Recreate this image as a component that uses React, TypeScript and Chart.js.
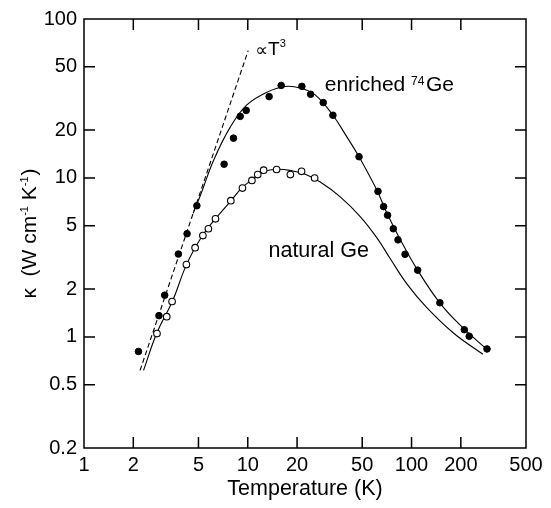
import React, { useEffect, useRef } from 'react';
import { Chart, registerables } from 'chart.js';

Chart.register(...registerables);

const FONT = '"Liberation Sans", Arial, Helvetica, sans-serif';

// Axis ticks
const xTicks = [1, 2, 5, 10, 20, 50, 100, 200, 500];
const yTicks = [0.2, 0.5, 1, 2, 5, 10, 20, 50, 100];

// Measured points: enriched 74Ge (filled circles)
const enrichedT = [2.15, 2.87, 3.11, 3.77, 4.26, 4.89, 7.17, 8.18, 8.99, 9.78, 13.5, 16.0, 21.4, 24.2, 28.9, 33.1, 47.8, 62.4, 67.5, 71.4, 77.4, 82.7, 91.3, 109, 149, 210, 225, 289];
const enrichedK = [0.81, 1.36, 1.83, 3.32, 4.46, 6.69, 12.2, 17.8, 24.4, 26.6, 32.5, 38.2, 37.7, 33.6, 29.8, 24.8, 13.6, 8.23, 6.6, 5.83, 4.79, 4.08, 3.31, 2.63, 1.64, 1.11, 1.01, 0.84];

// Measured points: natural Ge (open circles)
const naturalT = [2.79, 3.2, 3.45, 4.22, 4.77, 5.32, 5.75, 6.35, 7.88, 9.28, 10.6, 11.5, 12.5, 15.0, 18.2, 21.3, 25.6];
const naturalK = [1.05, 1.34, 1.67, 2.85, 3.64, 4.34, 4.79, 5.53, 7.2, 8.63, 9.65, 10.5, 11.2, 11.3, 10.5, 11.0, 9.99];

// Fitted curves
const enrichedFitT = [4.64, 5.19, 6.17, 7.8, 9.87, 13.1, 16.9, 20.9, 25.8, 33.1, 39.4, 47.6, 61.5, 70.8, 85.4, 108, 150, 208, 287];
const enrichedFitK = [5.99, 7.98, 12.84, 20.8, 28.8, 34.6, 37.6, 36.8, 33.3, 24.8, 18.8, 13.7, 8.36, 5.99, 4.09, 2.67, 1.62, 1.13, 0.839];

const naturalFitT = [2.31, 2.78, 3.47, 4.24, 5.29, 6.32, 7.84, 9.2, 10.64, 12.42, 15.34, 18.68, 22.43, 27.7, 36.7, 48.6, 61.5, 74.2, 93.9, 124.4, 180.9, 272.8];
const naturalFitK = [0.616, 1.054, 1.68, 2.87, 4.34, 5.5, 7.12, 8.66, 9.74, 10.92, 11.35, 11.08, 10.54, 9.43, 7.61, 5.72, 4.2, 3.1, 2.15, 1.52, 1.054, 0.778];

// T^3 guide line
const cubeT = [2.2, 10.06];
const cubeK = [0.616, 63.3];

const toXY = (xs: number[], ys: number[]) => xs.map((x, i) => ({ x, y: ys[i] }));

type Seg = { t: string; size: number; dy?: number; gap?: number; family?: string };

function drawSegs(ctx: CanvasRenderingContext2D, segs: Seg[], x: number, y: number) {
  let cx = x;
  segs.forEach((s) => {
    cx += s.gap || 0;
    ctx.font = `${s.size}px ${s.family || FONT}`;
    ctx.fillText(s.t, cx, y + (s.dy || 0));
    cx += ctx.measureText(s.t).width;
  });
  return cx;
}

function segsWidth(ctx: CanvasRenderingContext2D, segs: Seg[]) {
  let w = 0;
  segs.forEach((s) => {
    ctx.font = `${s.size}px ${s.family || FONT}`;
    w += (s.gap || 0) + ctx.measureText(s.t).width;
  });
  return w;
}

const decor = {
  id: 'decor',
  afterDraw(chart: any) {
    const { ctx, chartArea: a, scales } = chart;
    const xs = scales.x;
    const ys = scales.y;
    ctx.save();
    ctx.strokeStyle = '#000';
    ctx.lineWidth = 1.5;
    ctx.strokeRect(a.left, a.top, a.right - a.left, a.bottom - a.top);
    const L = 11;
    ctx.beginPath();
    xTicks.slice(1, -1).forEach((v) => {
      const px = xs.getPixelForValue(v);
      ctx.moveTo(px, a.bottom);
      ctx.lineTo(px, a.bottom - L);
      ctx.moveTo(px, a.top);
      ctx.lineTo(px, a.top + L);
    });
    yTicks.slice(1, -1).forEach((v) => {
      const py = ys.getPixelForValue(v);
      ctx.moveTo(a.left, py);
      ctx.lineTo(a.left + L, py);
      ctx.moveTo(a.right, py);
      ctx.lineTo(a.right - L, py);
    });
    ctx.stroke();

    ctx.fillStyle = '#000';
    ctx.textBaseline = 'alphabetic';
    ctx.textAlign = 'left';
    // ∝T^3
    drawSegs(
      ctx,
      [
        { t: '\u221D', size: 18, family: '"DejaVu Sans", sans-serif', dy: 1 },
        { t: 'T', size: 19, gap: 0 },
        { t: '3', size: 11, dy: -8 },
      ],
      xs.getPixelForValue(11.1),
      ys.getPixelForValue(59)
    );
    // enriched 74Ge
    drawSegs(
      ctx,
      [
        { t: 'enriched ', size: 21 },
        { t: '74', size: 12, dy: -6 },
        { t: 'Ge', size: 21, gap: 1.5 },
      ],
      xs.getPixelForValue(29.5),
      ys.getPixelForValue(35.2)
    );
    // natural Ge
    drawSegs(ctx, [{ t: 'natural Ge', size: 21.5 }], xs.getPixelForValue(13.38), ys.getPixelForValue(3.2));

    // y-axis title
    const ySegs: Seg[] = [
      { t: '\u03BA  (W cm', size: 21 },
      { t: '-1', size: 11, dy: -8 },
      { t: ' K', size: 21 },
      { t: '-1', size: 11, dy: -8 },
      { t: ')', size: 21, gap: 1 },
    ];
    const w = segsWidth(ctx, ySegs);
    ctx.translate(36, (a.top + a.bottom) / 2);
    ctx.rotate(-Math.PI / 2);
    drawSegs(ctx, ySegs, -w / 2, 0);
    ctx.restore();
  },
};

export default function App() {
  const ref = useRef<HTMLCanvasElement | null>(null);
  useEffect(() => {
    if (!ref.current) return;
    const tickFont = { family: FONT, size: 20 };
    const chart = new Chart(ref.current, {
      type: 'scatter',
      data: {
        datasets: [
          {
            label: 'enriched',
            data: toXY(enrichedT, enrichedK),
            backgroundColor: '#000',
            borderColor: '#000',
            pointRadius: 3.3,
            pointBorderWidth: 1,
            showLine: false,
            order: 0,
          },
          {
            label: 'natural',
            data: toXY(naturalT, naturalK),
            backgroundColor: '#fff',
            borderColor: '#000',
            pointRadius: 3.3,
            pointBorderWidth: 1.1,
            showLine: false,
            order: 0,
          },
          {
            label: 'enriched fit',
            data: toXY(enrichedFitT, enrichedFitK),
            borderColor: '#000',
            borderWidth: 1.1,
            pointRadius: 0,
            showLine: true,
            tension: 0.4,
            order: 1,
          },
          {
            label: 'natural fit',
            data: toXY(naturalFitT, naturalFitK),
            borderColor: '#000',
            borderWidth: 1.1,
            pointRadius: 0,
            showLine: true,
            tension: 0.4,
            order: 1,
          },
          {
            label: 'T3',
            data: toXY(cubeT, cubeK),
            borderColor: '#000',
            borderWidth: 1.1,
            borderDash: [5, 3],
            pointRadius: 0,
            showLine: true,
            order: 1,
          },
        ],
      },
      options: {
        animation: false,
        responsive: false,
        devicePixelRatio: 1,
        layout: { padding: { left: 0, top: 13, right: 25, bottom: 0 } },
        plugins: { legend: { display: false }, tooltip: { enabled: false } },
        scales: {
          x: {
            type: 'logarithmic',
            min: 1,
            max: 500,
            position: 'bottom',
            grid: { display: false, drawTicks: false },
            border: { display: false },
            ticks: {
              font: tickFont,
              color: '#000',
              padding: 5,
              maxRotation: 0,
              autoSkip: false,
              callback: (v: any) => String(v),
            },
            afterBuildTicks: (s: any) => {
              s.ticks = xTicks.map((value) => ({ value }));
            },
            afterFit: (s: any) => {
              s.height = 60;
            },
            title: {
              display: true,
              text: 'Temperature (K)',
              color: '#000',
              font: { family: FONT, size: 21.5 },
              padding: { top: 0, bottom: 6 },
            },
          },
          y: {
            type: 'logarithmic',
            min: 0.2,
            max: 100,
            grid: { display: false, drawTicks: false },
            border: { display: false },
            ticks: {
              font: tickFont,
              color: '#000',
              padding: 7,
              autoSkip: false,
              callback: (v: any) => String(v),
            },
            afterBuildTicks: (s: any) => {
              s.ticks = yTicks.map((value) => ({ value }));
            },
            afterFit: (s: any) => {
              s.width = 84;
            },
          },
        },
      } as any,
      plugins: [decor],
    });
    return () => chart.destroy();
  }, []);
  return (
    <div style={{ position: 'absolute', left: 0, top: 0, width: 551, height: 508, background: '#fff' }}>
      <canvas ref={ref} width={551} height={508} style={{ display: 'block' }} />
    </div>
  );
}
